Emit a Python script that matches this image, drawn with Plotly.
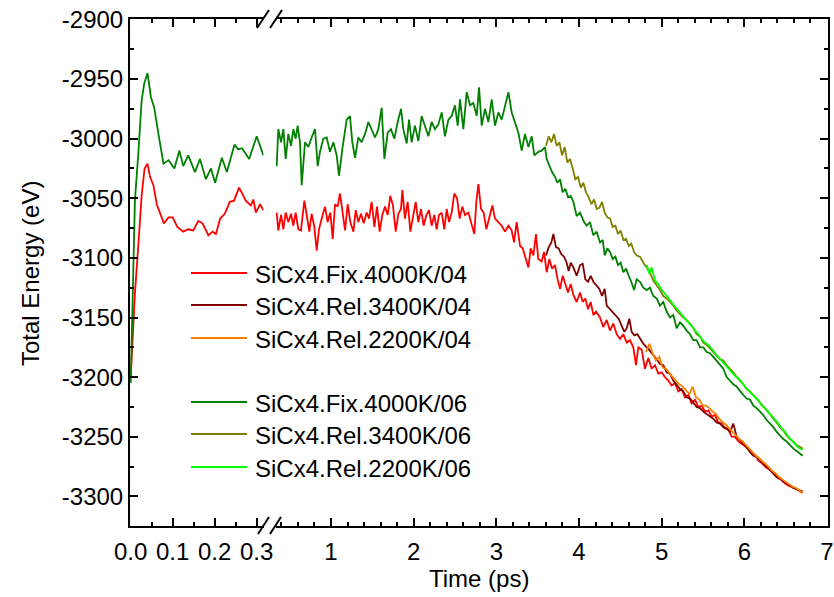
import plotly.graph_objects as go

# ---------------- data (time in ps, total energy in eV) ----------------
fix04_t = [0, 0.010, 0.018, 0.026, 0.033, 0.040, 0.046, 0.054, 0.062, 0.070, 0.079, 0.090, 0.100,
           0.111, 0.125, 0.137, 0.149, 0.161, 0.171, 0.185, 0.195, 0.203, 0.213, 0.224, 0.236,
           0.246, 0.258, 0.264, 0.274, 0.286, 0.292, 0.298, 0.308, 0.316,
           0.343, 0.363, 0.396, 0.424, 0.452, 0.484, 0.517, 0.545, 0.573, 0.605, 0.637, 0.678,
           0.706, 0.738, 0.766, 0.799, 0.827, 0.855, 0.888, 0.928, 0.960, 0.992, 1.021, 1.049,
           1.081, 1.109, 1.137, 1.170, 1.202, 1.234, 1.271, 1.299, 1.331, 1.363, 1.396, 1.432,
           1.460, 1.492, 1.525, 1.557, 1.589, 1.621, 1.654, 1.686, 1.718, 1.750, 1.783, 1.815,
           1.847, 1.863, 1.895, 1.928, 1.960, 1.992, 2.025, 2.057, 2.089, 2.121, 2.154, 2.186,
           2.218, 2.250, 2.279, 2.307, 2.339, 2.371, 2.400, 2.428, 2.460, 2.492, 2.525, 2.557,
           2.589, 2.621, 2.662, 2.694, 2.734, 2.758, 2.783, 2.815, 2.847, 2.879, 2.912, 2.952,
           2.984, 3.025, 3.065, 3.105, 3.146, 3.186, 3.214, 3.246, 3.287, 3.319, 3.359, 3.388,
           3.416, 3.448, 3.480, 3.508, 3.549, 3.577, 3.609, 3.642, 3.674, 3.710, 3.738, 3.771,
           3.803, 3.835, 3.867, 3.900, 3.932, 3.972, 4.013, 4.045, 4.077, 4.109, 4.142, 4.174,
           4.206, 4.254, 4.294, 4.335, 4.375, 4.415, 4.456, 4.496, 4.536, 4.577, 4.617, 4.657,
           4.689, 4.718, 4.758, 4.798, 4.839, 4.879, 4.919, 4.960, 5.000, 5.040, 5.081, 5.121,
           5.161, 5.202, 5.242, 5.282, 5.323, 5.363, 5.403, 5.444, 5.484, 5.524, 5.565, 5.605,
           5.645, 5.685, 5.726, 5.766, 5.806, 5.847, 5.887, 5.927, 5.968, 6.008, 6.048, 6.089,
           6.129, 6.169, 6.210, 6.250, 6.290, 6.331, 6.371, 6.411, 6.452, 6.492, 6.532, 6.573,
           6.613, 6.673, 6.706]
fix04_E = [-3200, -3130, -3090, -3048, -3025, -3021, -3032, -3039, -3055, -3063, -3071, -3066, -3066,
           -3074, -3078, -3076, -3077, -3069, -3071, -3081, -3078, -3080, -3067, -3063, -3053,
           -3052, -3041, -3045, -3052, -3056, -3051, -3062, -3055, -3060,
           -3062, -3077, -3064, -3076, -3062, -3070, -3063, -3073, -3062, -3076, -3077, -3052,
           -3064, -3078, -3063, -3074, -3094, -3076, -3067, -3057, -3070, -3062, -3084, -3055,
           -3057, -3046, -3060, -3077, -3055, -3070, -3078, -3060, -3070, -3063, -3071, -3062,
           -3067, -3053, -3074, -3057, -3078, -3064, -3057, -3064, -3048, -3056, -3078, -3063,
           -3059, -3043, -3067, -3053, -3078, -3064, -3053, -3070, -3059, -3073, -3064, -3060,
           -3073, -3064, -3076, -3064, -3062, -3076, -3059, -3070, -3062, -3046, -3050, -3067,
           -3057, -3064, -3062, -3070, -3080, -3053, -3038, -3059, -3062, -3076, -3066, -3056,
           -3067, -3070, -3073, -3078, -3073, -3077, -3087, -3070, -3090, -3092, -3101, -3108,
           -3092, -3098, -3080, -3101, -3103, -3095, -3112, -3101, -3109, -3106, -3117, -3126,
           -3115, -3123, -3129, -3122, -3131, -3137, -3129, -3137, -3134, -3143, -3137, -3148,
           -3145, -3150, -3158, -3152, -3161, -3155, -3164, -3168, -3164, -3171, -3169, -3175,
           -3190, -3175, -3177, -3193, -3184, -3193, -3190, -3197, -3196, -3200, -3203, -3207,
           -3205, -3212, -3210, -3217, -3215, -3222, -3219, -3225, -3224, -3229, -3228, -3233,
           -3232, -3238, -3239, -3243, -3244, -3250, -3250, -3254, -3256, -3258, -3260, -3264,
           -3265, -3270, -3272, -3275, -3277, -3279, -3282, -3285, -3286, -3289, -3291, -3292,
           -3293, -3296, -3297]

rel3400_04_t = [3.601, 3.634, 3.666, 3.690, 3.722, 3.754, 3.787, 3.819, 3.851, 3.875, 3.900, 3.932,
                3.972, 4.013, 4.045, 4.077, 4.109, 4.142, 4.174, 4.214, 4.246, 4.279, 4.311, 4.335,
                4.375, 4.408, 4.448, 4.480, 4.517, 4.549, 4.577, 4.609, 4.637, 4.670, 4.706, 4.738,
                4.778, 4.859, 4.899, 4.939, 4.980, 5.020, 5.060, 5.101, 5.141, 5.181, 5.222, 5.262,
                5.302, 5.343, 5.383, 5.423, 5.464, 5.504, 5.544, 5.585, 5.625, 5.665, 5.706, 5.746,
                5.786, 5.827, 5.867, 5.907, 5.948, 5.988, 6.028, 6.069, 6.109, 6.149, 6.190, 6.230,
                6.270, 6.310, 6.351, 6.391, 6.431, 6.472, 6.512, 6.552, 6.593, 6.633, 6.706]
rel3400_04_E = [-3098, -3091, -3087, -3080, -3091, -3092, -3097, -3099, -3104, -3111, -3104, -3108,
                -3115, -3106, -3105, -3118, -3120, -3115, -3120, -3123, -3126, -3132, -3126, -3140,
                -3143, -3145, -3148, -3151, -3157, -3162, -3159, -3151, -3162, -3165, -3164, -3168,
                -3172, -3178, -3182, -3185, -3189, -3190, -3196, -3197, -3203, -3206, -3210, -3212,
                -3217, -3218, -3222, -3225, -3226, -3229, -3231, -3233, -3235, -3238, -3239, -3242,
                -3243, -3246, -3239, -3250, -3253, -3256, -3259, -3263, -3266, -3267, -3270, -3273,
                -3275, -3278, -3281, -3284, -3285, -3288, -3289, -3291, -3293, -3294, -3296]

rel2200_04_t = [4.810, 4.851, 4.891, 4.931, 4.972, 5.012, 5.052, 5.093, 5.133, 5.173, 5.214, 5.254,
                5.294, 5.335, 5.375, 5.415, 5.456, 5.496, 5.536, 5.577, 5.617, 5.657, 5.698, 5.738,
                5.778, 5.819, 5.859, 5.899, 5.940, 5.980, 6.020, 6.060, 6.101, 6.141, 6.181, 6.222,
                6.262, 6.302, 6.343, 6.383, 6.423, 6.464, 6.504, 6.544, 6.585, 6.625, 6.665, 6.706]
rel2200_04_E = [-3179, -3172, -3180, -3186, -3183, -3192, -3193, -3197, -3200, -3203, -3206, -3208,
                -3211, -3214, -3208, -3217, -3219, -3224, -3224, -3226, -3229, -3231, -3235, -3238,
                -3240, -3243, -3246, -3249, -3252, -3254, -3257, -3260, -3263, -3266, -3268, -3271,
                -3273, -3276, -3279, -3281, -3284, -3286, -3288, -3290, -3292, -3293, -3295, -3297]

fix06_t = [0, 0.010, 0.018, 0.026, 0.032, 0.040, 0.048, 0.056, 0.066, 0.078, 0.090, 0.104, 0.116,
           0.125, 0.137, 0.153, 0.165, 0.179, 0.191, 0.201, 0.217, 0.229, 0.247, 0.256, 0.265,
           0.282, 0.300, 0.316,
           0.343, 0.363, 0.396, 0.424, 0.452, 0.484, 0.517, 0.545, 0.573, 0.597, 0.625, 0.646,
           0.686, 0.726, 0.766, 0.807, 0.839, 0.867, 0.908, 0.948, 0.988, 1.029, 1.069, 1.097,
           1.137, 1.190, 1.230, 1.258, 1.291, 1.331, 1.371, 1.412, 1.452, 1.492, 1.533, 1.573,
           1.613, 1.646, 1.686, 1.726, 1.767, 1.807, 1.847, 1.875, 1.916, 1.944, 1.976, 2.016,
           2.057, 2.097, 2.137, 2.178, 2.218, 2.258, 2.299, 2.339, 2.379, 2.420, 2.460, 2.500,
           2.533, 2.561, 2.601, 2.642, 2.682, 2.722, 2.763, 2.791, 2.823, 2.863, 2.904, 2.944,
           2.984, 3.025, 3.065, 3.105, 3.146, 3.186, 3.226, 3.267, 3.307, 3.347, 3.388, 3.428,
           3.460, 3.508, 3.549, 3.589, 3.609, 3.642, 3.674, 3.710, 3.738, 3.771, 3.803, 3.835,
           3.867, 3.900, 3.932, 3.972, 4.013, 4.061, 4.093, 4.133, 4.174, 4.214, 4.254, 4.287,
           4.311, 4.343, 4.375, 4.408, 4.440, 4.472, 4.504, 4.537, 4.569, 4.601, 4.633, 4.666,
           4.698, 4.738, 4.778, 4.819, 4.859, 4.899, 4.939, 4.980, 5.020, 5.060, 5.101, 5.141,
           5.181, 5.222, 5.262, 5.302, 5.343, 5.383, 5.423, 5.464, 5.504, 5.544, 5.585, 5.625,
           5.665, 5.706, 5.746, 5.786, 5.827, 5.867, 5.907, 5.948, 5.988, 6.028, 6.069, 6.109,
           6.149, 6.190, 6.230, 6.270, 6.310, 6.351, 6.391, 6.431, 6.472, 6.512, 6.552, 6.593,
           6.633, 6.673, 6.706]
fix06_E = [-3205, -3052, -3013, -2968, -2954, -2945, -2965, -2974, -2996, -3021, -3018, -3025, -3010,
           -3023, -3014, -3028, -3017, -3034, -3025, -3037, -3016, -3028, -3005, -3009, -3008,
           -3017, -2998, -3014,
           -3023, -2992, -3003, -2992, -3017, -2996, -3006, -2992, -3000, -2989, -3003, -3039,
           -3003, -3007, -2999, -2992, -3023, -3011, -3000, -2999, -3011, -3003, -3014, -3031,
           -3009, -2984, -2981, -3003, -3016, -2999, -3003, -2996, -2986, -2992, -2999, -2992,
           -2974, -3017, -2995, -2992, -3000, -2986, -2975, -2992, -3004, -2984, -3003, -2989,
           -3002, -2981, -2989, -2998, -2986, -2992, -2988, -2978, -2998, -2984, -2981, -2972,
           -2989, -2967, -2992, -2961, -2972, -2970, -2981, -2957, -2989, -2975, -2986, -2967,
           -2989, -2978, -2984, -2972, -2961, -2978, -2986, -2995, -3010, -2996, -3007, -2998,
           -3014, -3011, -3010, -3007, -3017, -3023, -3028, -3032, -3037, -3034, -3045, -3042,
           -3049, -3048, -3053, -3065, -3062, -3070, -3073, -3070, -3081, -3078, -3087, -3085,
           -3098, -3092, -3095, -3101, -3099, -3106, -3104, -3112, -3109, -3115, -3120, -3127,
           -3118, -3120, -3125, -3127, -3125, -3132, -3134, -3140, -3137, -3145, -3150, -3148,
           -3159, -3154, -3157, -3161, -3164, -3169, -3169, -3175, -3175, -3179, -3180, -3183,
           -3186, -3190, -3193, -3200, -3203, -3206, -3208, -3212, -3215, -3218, -3219, -3224,
           -3226, -3229, -3232, -3236, -3239, -3242, -3246, -3249, -3252, -3254, -3257, -3260,
           -3262, -3264, -3266]

rel3400_06_t = [3.601, 3.634, 3.666, 3.698, 3.730, 3.763, 3.795, 3.827, 3.859, 3.892, 3.924, 3.956,
                3.988, 4.021, 4.053, 4.085, 4.117, 4.150, 4.182, 4.214, 4.246, 4.279, 4.311, 4.343,
                4.375, 4.408, 4.440, 4.472, 4.504, 4.537, 4.569, 4.601, 4.633, 4.666, 4.698, 4.738,
                4.778, 4.819, 4.859, 4.899, 4.939, 4.980, 5.020, 5.060, 5.101, 5.141, 5.181, 5.222,
                5.262, 5.302, 5.343, 5.383, 5.423, 5.464, 5.504, 5.544, 5.585, 5.625, 5.665, 5.706,
                5.746, 5.786, 5.827, 5.867, 5.907, 5.948, 5.988, 6.028, 6.069, 6.109, 6.149, 6.190,
                6.230, 6.270, 6.310, 6.351, 6.391, 6.431, 6.472, 6.512, 6.552, 6.593, 6.633, 6.706]
rel3400_06_E = [-3006, -2998, -3003, -2996, -3006, -3003, -3014, -3007, -3020, -3017, -3025, -3034,
                -3032, -3041, -3037, -3045, -3049, -3055, -3051, -3059, -3058, -3053, -3062, -3066,
                -3067, -3074, -3073, -3080, -3077, -3085, -3084, -3090, -3088, -3095, -3098, -3099,
                -3104, -3108, -3113, -3119, -3123, -3127, -3132, -3134, -3137, -3140, -3144, -3147,
                -3150, -3152, -3155, -3159, -3164, -3166, -3171, -3173, -3176, -3179, -3182, -3185,
                -3186, -3190, -3193, -3196, -3200, -3203, -3206, -3210, -3212, -3215, -3218, -3222,
                -3225, -3228, -3231, -3235, -3238, -3242, -3245, -3249, -3252, -3254, -3257, -3260]

rel2200_06_t = [4.819, 4.851, 4.879, 4.919, 4.960, 5.000, 5.040, 5.081, 5.121, 5.161, 5.202, 5.242,
                5.282, 5.323, 5.363, 5.403, 5.444, 5.484, 5.524, 5.565, 5.605, 5.645, 5.685, 5.726,
                5.766, 5.806, 5.847, 5.887, 5.927, 5.968, 6.008, 6.048, 6.089, 6.129, 6.169, 6.210,
                6.250, 6.290, 6.331, 6.371, 6.411, 6.452, 6.492, 6.532, 6.573, 6.613, 6.653, 6.706]
rel2200_06_E = [-3106, -3113, -3108, -3119, -3122, -3127, -3130, -3134, -3138, -3141, -3144, -3148,
                -3151, -3154, -3157, -3161, -3164, -3168, -3171, -3173, -3176, -3180, -3183, -3186,
                -3189, -3192, -3196, -3199, -3201, -3204, -3208, -3211, -3214, -3217, -3219, -3224,
                -3226, -3229, -3233, -3236, -3239, -3243, -3246, -3250, -3253, -3256, -3259, -3261]

series_names = ["SiCx4.Fix.4000K/04", "SiCx4.Rel.3400K/04", "SiCx4.Rel.2200K/04",
                "SiCx4.Fix.4000K/06", "SiCx4.Rel.3400K/06", "SiCx4.Rel.2200K/06"]
series_colors = ["#ff0000", "#800000", "#ff8000", "#008000", "#808000", "#00ff00"]

x_left_tickvals = [0.0, 0.1, 0.2, 0.3]
x_left_ticktext = ["0.0", "0.1", "0.2", "0.3"]
x_right_tickvals = [1, 2, 3, 4, 5, 6, 7]
x_right_ticktext = ["1", "2", "3", "4", "5", "6", "7"]
y_tickvals = [-2900, -2950, -3000, -3050, -3100, -3150, -3200, -3250, -3300]
y_ticktext = ["-2900", "-2950", "-3000", "-3050", "-3100", "-3150", "-3200", "-3250", "-3300"]

BREAK_T = 0.33   # time at which the axis break separates the two panels

# ---------------- layout geometry ----------------
FONT = "Arial, 'Liberation Sans', sans-serif"
W, H = 834, 597
ML, MR, MT, MB = 130, 6, 19, 71
PW = W - ML - MR
PH = H - MT - MB


def fx(px):
    return (px - ML) / PW


def fy(py):
    return (H - MB - py) / PH


LEFT_DOM = [0, fx(263.5)]
RIGHT_DOM = [fx(275.5), 1]

fig = go.Figure()


def add_series(t, e, name, color, split=False):
    if split:
        tl = [a for a in t if a < BREAK_T]
        el = [b for a, b in zip(t, e) if a < BREAK_T]
        tr = [a for a in t if a >= BREAK_T]
        er = [b for a, b in zip(t, e) if a >= BREAK_T]
        fig.add_trace(go.Scatter(x=tl, y=el, mode="lines", name=name,
                                 line=dict(color=color, width=1.8), xaxis="x", yaxis="y"))
        fig.add_trace(go.Scatter(x=tr, y=er, mode="lines", name=name,
                                 line=dict(color=color, width=1.8), xaxis="x2", yaxis="y2"))
    else:
        fig.add_trace(go.Scatter(x=t, y=e, mode="lines", name=name,
                                 line=dict(color=color, width=1.8), xaxis="x2", yaxis="y2"))


add_series(fix04_t, fix04_E, series_names[0], series_colors[0], split=True)
add_series(rel3400_04_t, rel3400_04_E, series_names[1], series_colors[1])
add_series(rel2200_04_t, rel2200_04_E, series_names[2], series_colors[2])
add_series(fix06_t, fix06_E, series_names[3], series_colors[3], split=True)
add_series(rel3400_06_t, rel3400_06_E, series_names[4], series_colors[4])
add_series(rel2200_06_t, rel2200_06_E, series_names[5], series_colors[5])

YR = [-3324.9, -2899.6]
tickfont = dict(family=FONT, size=24, color="black")
common = dict(showline=True, linecolor="black", linewidth=2, ticks="inside", ticklen=8,
              tickwidth=1.5, tickcolor="black", showgrid=False, zeroline=False,
              tickfont=tickfont, automargin=False)

fig.update_layout(
    width=W, height=H,
    margin=dict(l=ML, r=MR, t=MT, b=MB, pad=0, autoexpand=False),
    paper_bgcolor="white", plot_bgcolor="white",
    font=dict(family=FONT, size=24, color="black"),
    showlegend=False,
    xaxis=dict(domain=LEFT_DOM, range=[-0.0017, 0.3162], anchor="y", mirror="ticks",
               tickmode="array", tickvals=x_left_tickvals, ticktext=x_left_ticktext,
               ticklabelstandoff=3,
               minor=dict(tickvals=[0.05, 0.15, 0.25], ticks="inside", ticklen=4,
                          tickwidth=1.5, tickcolor="black"),
               **common),
    xaxis2=dict(domain=RIGHT_DOM, range=[0.329, 7.012], anchor="y2", mirror="ticks",
                tickmode="array", tickvals=x_right_tickvals, ticktext=x_right_ticktext,
                ticklabelstandoff=3,
                minor=dict(dtick=0.2, tick0=0, ticks="inside", ticklen=4, tickwidth=1.5,
                           tickcolor="black"),
                **common),
    yaxis=dict(domain=[0, 1], range=YR, anchor="x", side="left",
               tickmode="array", tickvals=y_tickvals, ticktext=y_ticktext,
               minor=dict(dtick=25, tick0=-2900, ticks="inside", ticklen=4, tickwidth=1.5,
                          tickcolor="black"),
               **common),
    yaxis2=dict(domain=[0, 1], range=YR, anchor="x2", side="right", showticklabels=False,
                tickmode="array", tickvals=y_tickvals,
                minor=dict(dtick=25, tick0=-2900, ticks="inside", ticklen=4, tickwidth=1.5,
                           tickcolor="black"),
                **common),
)

# legend drawn as line samples + text labels (two groups with a gap)
legend_rows_py = [273, 305, 338, 402, 434, 467]
for name, color, py in zip(series_names, series_colors, legend_rows_py):
    fig.add_shape(type="line", xref="paper", yref="paper", x0=fx(191), x1=fx(247),
                  y0=fy(py), y1=fy(py), line=dict(color=color, width=2))
    fig.add_annotation(text=name, xref="paper", yref="paper", x=fx(253), y=fy(py + 1),
                       xanchor="left", yanchor="middle", showarrow=False,
                       font=dict(family=FONT, size=24, color="black"))

# axis titles
fig.add_annotation(text="Time (ps)", xref="paper", yref="paper", x=fx(478.5), y=fy(578),
                   xanchor="center", yanchor="middle", showarrow=False,
                   font=dict(family=FONT, size=24, color="black"))
fig.add_annotation(text="Total Energy (eV)", xref="paper", yref="paper", x=fx(30), y=fy(274),
                   xanchor="center", yanchor="middle", showarrow=False, textangle=-90,
                   font=dict(family=FONT, size=24, color="black"))

# axis-break marks (double slashes) at bottom and top
for (x0, y0, x1, y1) in [(258, 534, 269, 517), (270, 534, 281, 517),
                         (257, 28, 269, 10), (270, 28, 282, 10)]:
    fig.add_shape(type="line", xref="paper", yref="paper",
                  x0=fx(x0), y0=fy(y0), x1=fx(x1), y1=fy(y1),
                  line=dict(color="black", width=2))

fig.write_html("out.html", config={"displayModeBar": False},
               post_script="document.body.style.margin='0px';"
                           "document.body.style.overflow='hidden';")
